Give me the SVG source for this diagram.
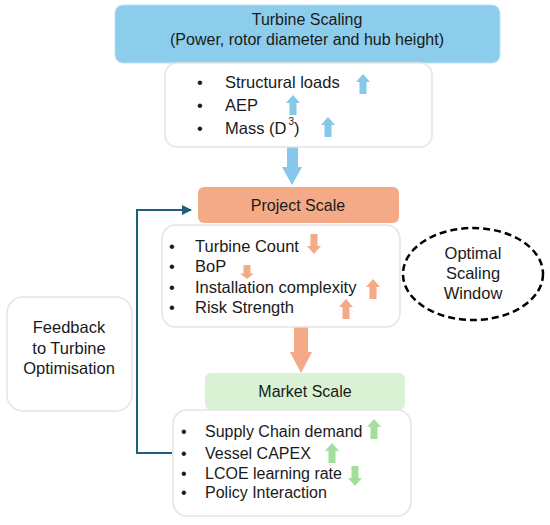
<svg xmlns="http://www.w3.org/2000/svg" width="550" height="525" viewBox="0 0 550 525">
<style>
text{font-family:"Liberation Sans",Arial,sans-serif;fill:#1a1a1a;}
.t16{font-size:16px;}
.t165{font-size:16.5px;}
.mid{text-anchor:middle;}
.card{fill:#ffffff;stroke:#e4e4e4;stroke-width:1.5;}
.blue{fill:#85C8EA;}
.orange{fill:#F4AA86;}
.green{fill:#A3DE9C;}
</style>
<defs>
<path id="up" d="M0,0 L7,8 L3.5,8 L3.5,20 L-3.5,20 L-3.5,8 L-7,8 Z"/>
<path id="down" d="M0,20 L7,12 L3.5,12 L3.5,0 L-3.5,0 L-3.5,12 L-7,12 Z"/>
<marker id="ah" viewBox="0 0 10 10" refX="9" refY="5" markerWidth="5" markerHeight="5" orient="auto" markerUnits="strokeWidth">
<path d="M0,0 L10,5 L0,10 Z" fill="#1F5E7E"/>
</marker>
</defs>
<rect width="550" height="525" fill="#ffffff"/>

<g id="connectors">
<path class="blue" d="M287,147 H298 V167 H302 L292,185 L282,167 H287 Z"/>
<path class="orange" d="M294,327 H308 V352 H312 L301,373 L290,352 H294 Z"/>
<path d="M172,453 H137 V210 H191" fill="none" stroke="#1F5E7E" stroke-width="2" marker-end="url(#ah)"/>
</g>

<g id="turbine-scaling">
<rect x="115" y="5" width="385" height="58" rx="8" fill="#8DCDEC" stroke="#BEE3F4" stroke-width="1"/>
<text class="t16 mid" x="307" y="25">Turbine Scaling</text>
<text class="t16 mid" x="307" y="45">(Power, rotor diameter and hub height)</text>
</g>

<g id="turbine-effects">
<rect class="card" x="165" y="63" width="267" height="84" rx="12"/>
<text class="t165" x="197" y="88">•</text>
<text class="t165" x="225" y="88">Structural loads</text>
<text class="t165" x="197" y="111">•</text>
<text class="t165" x="225" y="111">AEP</text>
<text class="t165" x="197" y="134">•</text>
<text class="t165" x="225" y="134">Mass (D<tspan font-size="10" dx="2" dy="-9">3</tspan><tspan dy="9">)</tspan></text>
<use href="#up" class="blue" x="363" y="74"/>
<use href="#up" class="blue" x="293" y="95"/>
<use href="#up" class="blue" x="328" y="117"/>
</g>

<g id="project-scale">
<rect x="198" y="187" width="201" height="36" rx="6" fill="#F4AA86"/>
<text class="t16 mid" x="298" y="211">Project Scale</text>
</g>

<g id="project-effects">
<rect class="card" x="162" y="225" width="238" height="102" rx="14"/>
<text class="t165" x="169" y="252">•</text>
<text class="t165" x="195" y="252">Turbine Count</text>
<text class="t165" x="169" y="272">•</text>
<text class="t165" x="195" y="272">BoP</text>
<text class="t165" x="169" y="293">•</text>
<text class="t165" x="195" y="293">Installation complexity</text>
<text class="t165" x="169" y="313">•</text>
<text class="t165" x="195" y="313">Risk Strength</text>
<use href="#down" class="orange" x="314" y="234"/>
<g transform="translate(247,265) scale(1,0.7)"><use href="#down" class="orange"/></g>
<use href="#up" class="orange" x="373" y="279"/>
<use href="#up" class="orange" x="346" y="299"/>
</g>

<g id="market-scale">
<rect x="205" y="373" width="200" height="37" rx="6" fill="#D9F2D3"/>
<text class="t16 mid" x="305" y="397">Market Scale</text>
</g>

<g id="market-effects">
<rect class="card" x="173" y="410" width="238" height="106" rx="14"/>
<text class="t16" x="181" y="437">•</text>
<text class="t16" x="205" y="437">Supply Chain demand</text>
<text class="t16" x="181" y="459">•</text>
<text class="t16" x="205" y="459">Vessel CAPEX</text>
<text class="t16" x="181" y="479">•</text>
<text class="t16" x="205" y="479">LCOE learning rate</text>
<text class="t16" x="181" y="498">•</text>
<text class="t16" x="205" y="498">Policy Interaction</text>
<use href="#up" class="green" x="374" y="419"/>
<use href="#up" class="green" x="332" y="443"/>
<use href="#down" class="green" x="355" y="466"/>
</g>

<g id="feedback">
<rect class="card" x="7" y="297" width="125" height="114" rx="16"/>
<text class="t165 mid" x="69" y="333">Feedback</text>
<text class="t165 mid" x="69" y="354">to Turbine</text>
<text class="t165 mid" x="69" y="374">Optimisation</text>
</g>

<g id="optimal-window">
<ellipse cx="473" cy="274" rx="70" ry="46" fill="#ffffff" stroke="#000000" stroke-width="2.5" stroke-dasharray="7 4"/>
<text class="t165 mid" x="473" y="259">Optimal</text>
<text class="t165 mid" x="473" y="279">Scaling</text>
<text class="t165 mid" x="473" y="299">Window</text>
</g>
</svg>
